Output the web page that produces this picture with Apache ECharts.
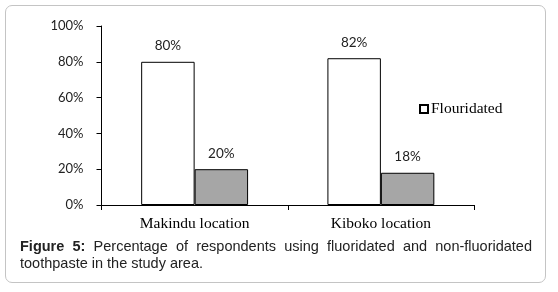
<!DOCTYPE html>
<html>
<head>
<meta charset="utf-8">
<script src="https://cdn.jsdelivr.net/npm/echarts@6/dist/echarts.min.js"></script>
<style>
  html, body { margin: 0; padding: 0; background: #fff; }
  #wrap { position: relative; width: 558px; height: 292px; overflow: hidden; }
  #frame {
    position: absolute; left: 5px; top: 5px; width: 541px; height: 278px;
    border: 1px solid #c4c4c4; border-radius: 7px; box-sizing: border-box;
  }
  #chart { position: absolute; left: 0; top: 0; width: 558px; height: 292px; }
  #caption {
    position: absolute; left: 20px; top: 238px; width: 512px;
    font-family: "Liberation Sans", Arial, sans-serif; font-size: 14.5px;
    line-height: 17px; color: #222; text-align: left;
  }
  #caption .line1 { display: block; text-align: justify; text-align-last: justify; white-space: nowrap; }
</style>
</head>
<body>
<div id="wrap">
  <div id="frame"></div>
  <div id="chart"></div>
  <div id="caption"><span class="line1"><b>Figure 5:</b> Percentage of respondents using fluoridated and non-fluoridated</span>toothpaste in the study area.</div>
</div>
<script>
// 地点
const categories = ['Makindu location', 'Kiboko location'];
const seriesNames = ['Flouridated', 'Non-flouridated'];
const flouridated = [80, 82];
const nonFlouridated = [20, 18];
const yTicks = [0, 20, 40, 60, 80, 100];

const axisTick = {
  show: true,
  length: 5,
  lineStyle: { color: '#000' },
};

const axisLine = {
  show: true,
  lineStyle: { color: '#000', width: 1 },
};

const barLabel = {
  show: true,
  position: 'top',
  distance: 9,
  formatter: '{c}%',
  fontFamily: 'Lato',
  fontSize: 13.5,
  color: '#222',
};

const option = {
  animation: false,
  legend: {
    data: [{ name: seriesNames[0], icon: 'rect' }],
    left: 414,
    top: 96,
    itemWidth: 8,
    itemHeight: 8,
    textStyle: { fontFamily: 'Liberation Serif', fontSize: 15.5, color: '#000', padding: [0, 0, 0, -2] },
  },
  grid: {
    left: 101.5,
    right: 84,
    top: 26,
    bottom: 87,
  },
  xAxis: {
    type: 'category',
    data: categories,
    axisLine,
    axisTick,
    axisLabel: {
      fontFamily: 'Liberation Serif',
      fontSize: 15.5,
      color: '#000',
      margin: 11,
    },
  },
  yAxis: {
    type: 'value',
    min: yTicks[0],
    max: yTicks[yTicks.length - 1],
    interval: 20,
    splitLine: { show: false },
    axisLine,
    axisTick,
    axisLabel: {
      formatter: '{value}%',
      fontFamily: 'Lato',
      fontSize: 13,
      color: '#222',
      margin: 18,
    },
  },
  series: [{
    name: seriesNames[0],
    type: 'bar',
    data: flouridated,
    barGap: '0%',
    barCategoryGap: '42.6%',
    itemStyle: { color: '#fff', borderColor: '#000', borderWidth: 1 },
    label: barLabel,
  }, {
    name: seriesNames[1],
    type: 'bar',
    data: nonFlouridated,
    itemStyle: { color: '#a6a6a6', borderColor: '#000', borderWidth: 1 },
    label: barLabel,
  }],
};

const myChart = echarts.init(document.getElementById('chart'), null, { renderer: 'canvas' });
myChart.setOption(option);
</script>
</body>
</html>
